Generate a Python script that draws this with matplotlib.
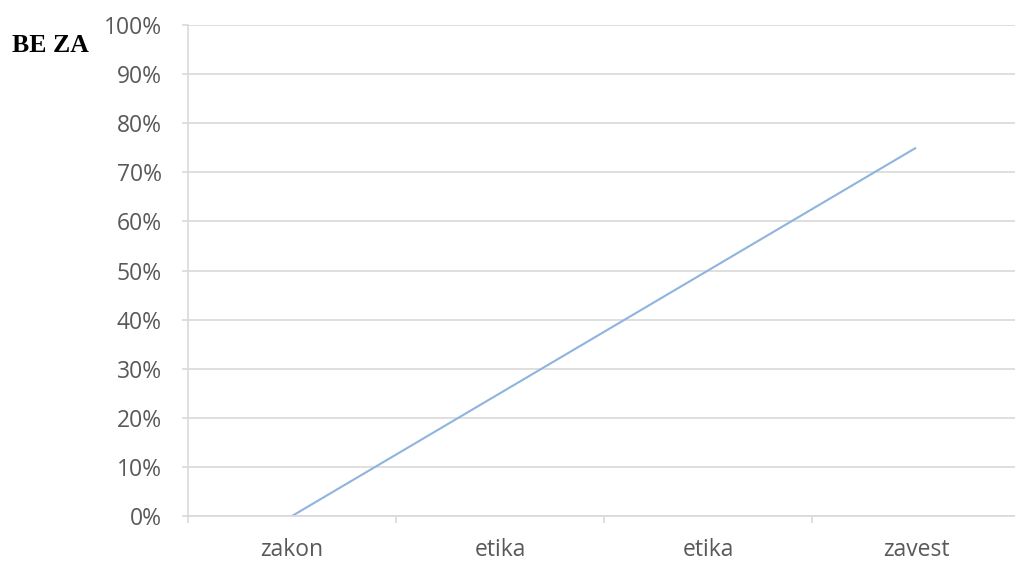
import matplotlib
matplotlib.use("Agg")
import matplotlib.pyplot as plt
from matplotlib.ticker import FixedLocator, PercentFormatter

categories = ["zakon", "etika", "etika", "zavest"]
values = [0, 25, 50, 75]
yticks = list(range(0, 101, 10))

fig = plt.figure(figsize=(10.15, 5.62), dpi=100)
ax = fig.add_axes([188 / 1015, 46 / 562, 832 / 1015, 491 / 562])

x = list(range(len(categories)))
ax.plot(x, values, color="#8FB4DE", linewidth=1.5, solid_capstyle="butt")

ax.set_xlim(-0.5, len(categories) - 0.5)
ax.set_ylim(0, 100)

grid_col = "#D9D9D9"
label_col = "#595959"

ax.set_yticks(yticks)
ax.yaxis.set_major_formatter(PercentFormatter(decimals=0))
ax.grid(axis="y", color=grid_col, linewidth=1.2)
ax.set_axisbelow(True)

ax.set_xticks(x)
ax.set_xticklabels(categories)
ax.xaxis.set_minor_locator(FixedLocator([i - 0.5 for i in range(len(categories) + 1)]))

for side in ("top", "right"):
    ax.spines[side].set_visible(False)
for side in ("left", "bottom"):
    ax.spines[side].set_color(grid_col)
    ax.spines[side].set_linewidth(1.2)

ax.tick_params(axis="x", which="major", length=0, pad=15.5, labelsize=16.5,
               labelcolor=label_col)
ax.tick_params(axis="x", which="minor", length=5, color=grid_col, width=1.2)
ax.tick_params(axis="y", which="major", length=4, color=grid_col, width=1.2,
               pad=15, labelsize=16.5, labelcolor=label_col)

for lab in ax.get_xticklabels() + ax.get_yticklabels():
    lab.set_fontfamily("Open Sans")

fig.text(12 / 1015, 1 - 45 / 562, "BE ZA", family="Liberation Serif",
         fontweight="bold", fontsize=18.5, color="black", va="center", ha="left")

fig.savefig("out.png", dpi=100, facecolor="white")
